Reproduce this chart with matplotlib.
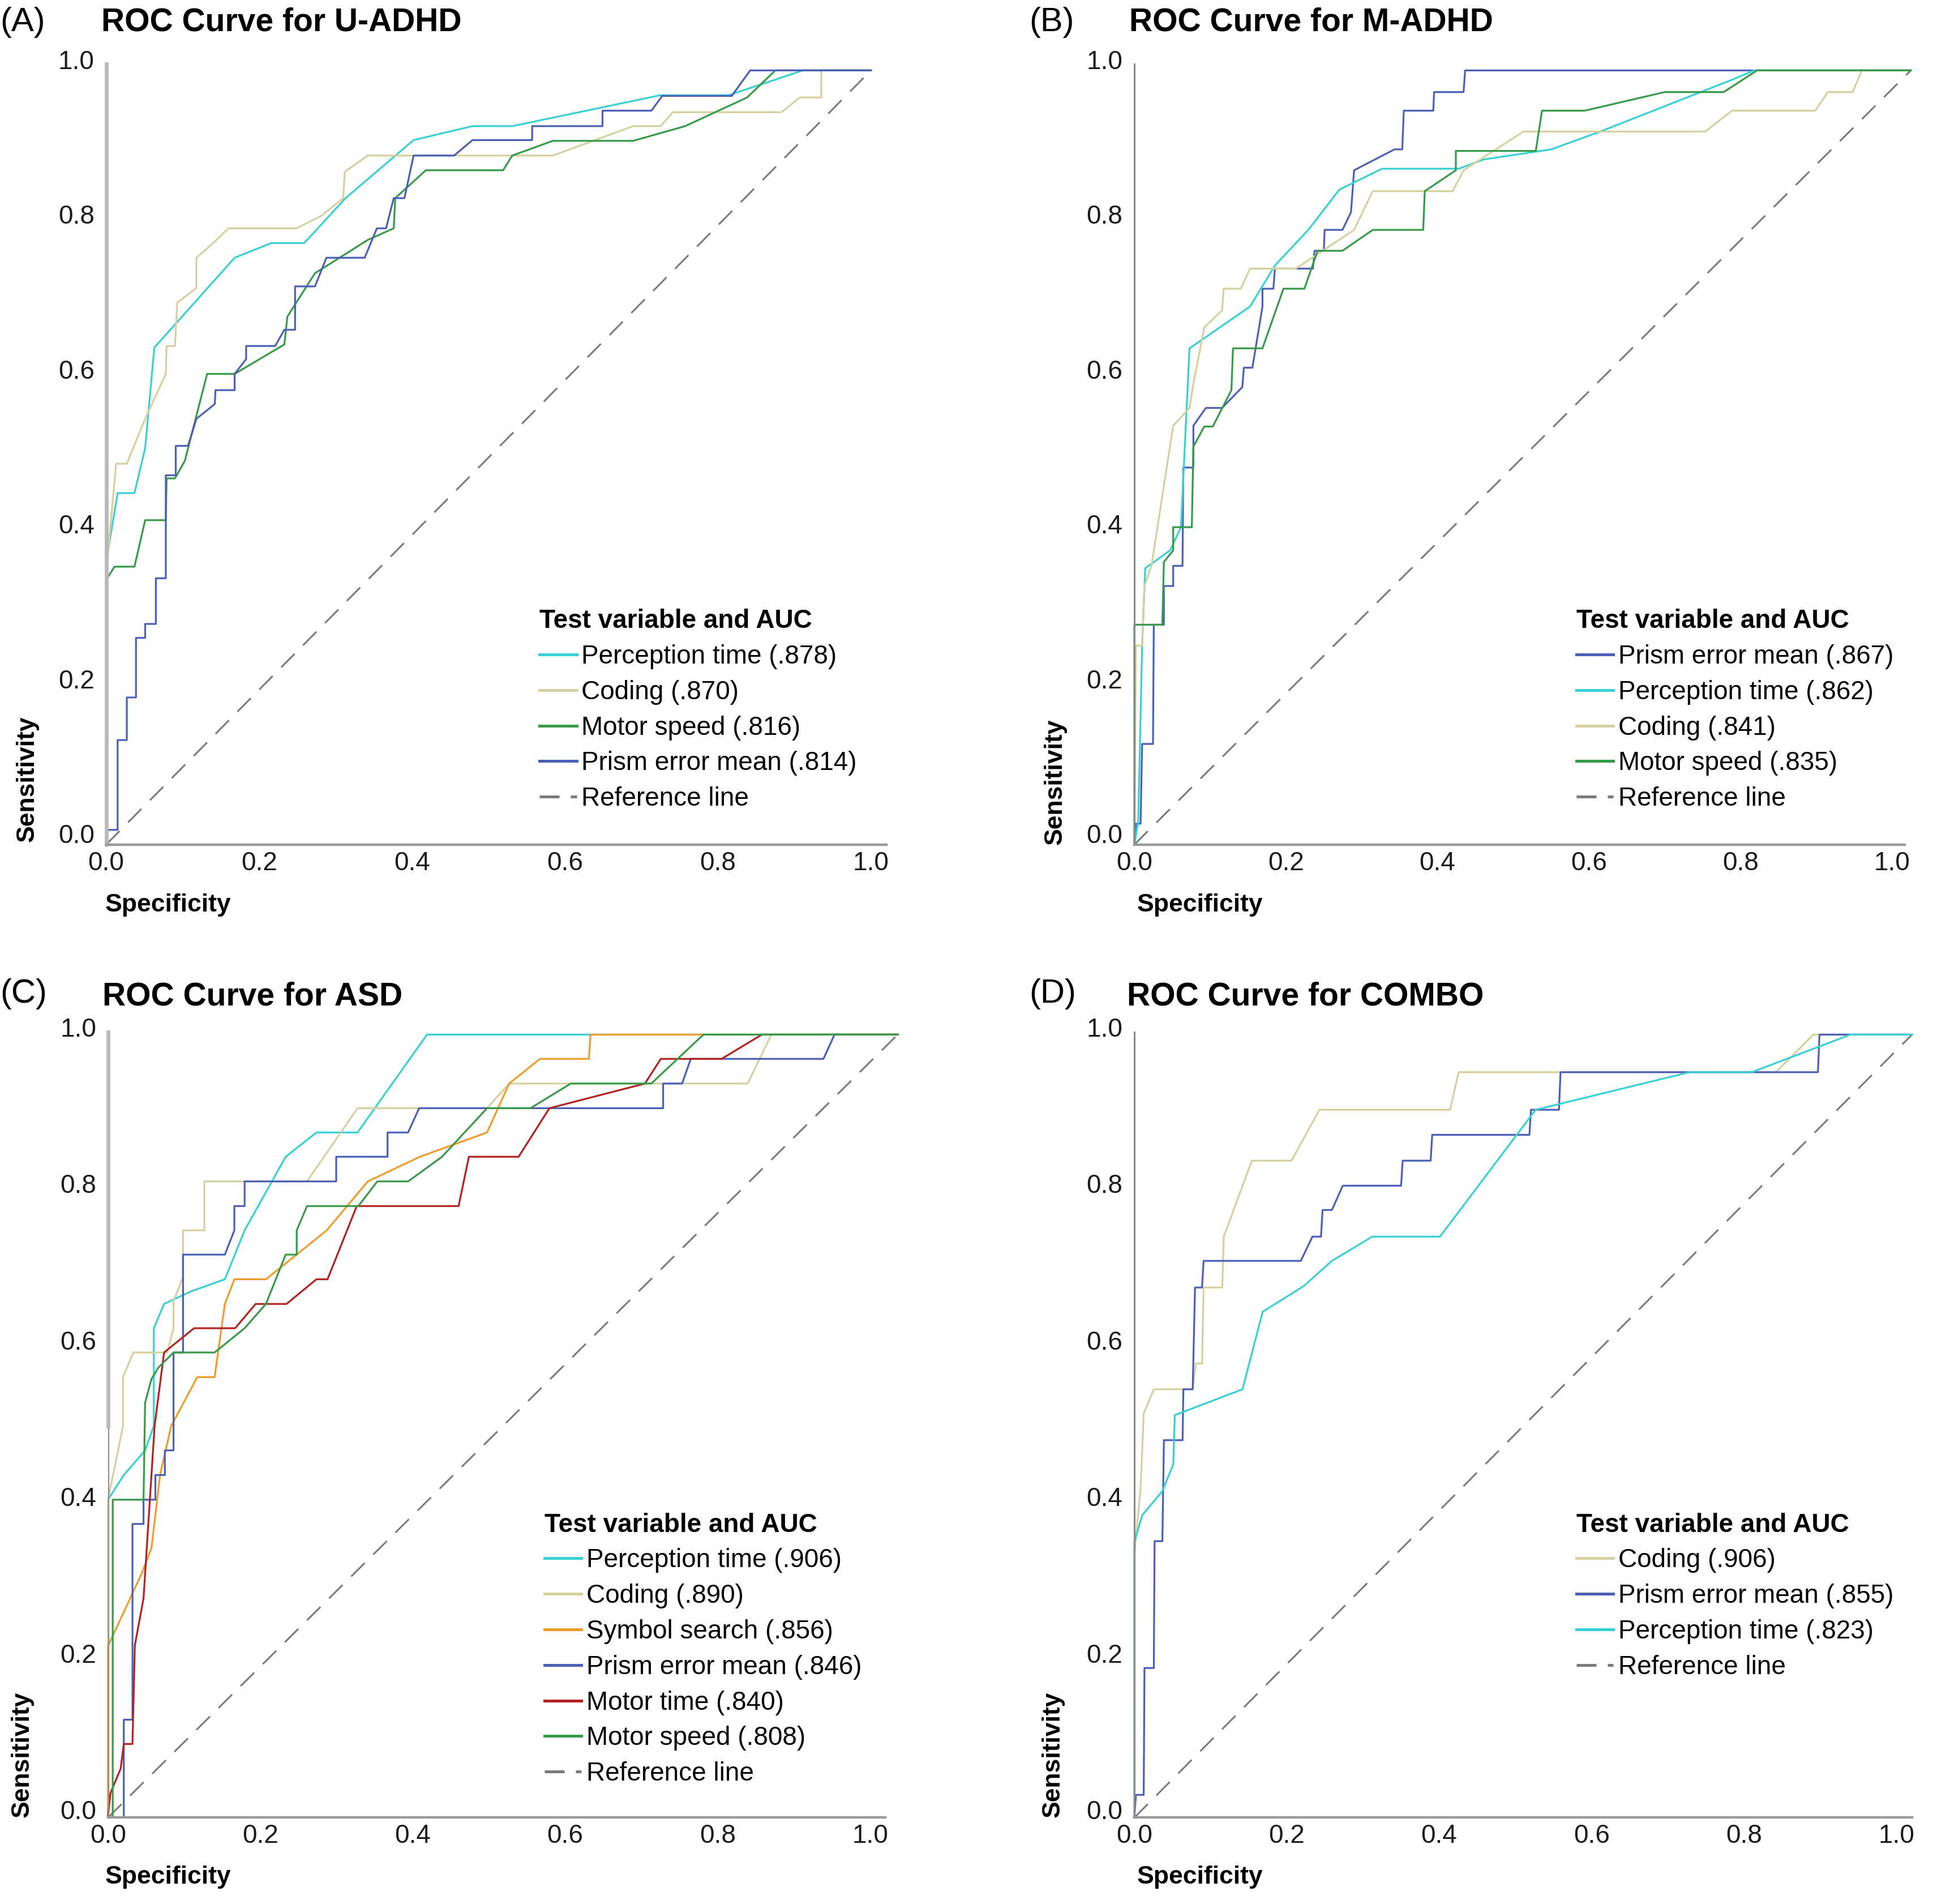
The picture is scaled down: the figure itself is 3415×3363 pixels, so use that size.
import matplotlib
matplotlib.use("Agg")
import matplotlib.pyplot as plt
import matplotlib.transforms as mtransforms
from matplotlib.lines import Line2D
from matplotlib.font_manager import FontProperties

plt.rcParams['font.family'] = ['Liberation Sans', 'DejaVu Sans']

# ---- (A) U-ADHD ----
a_perception_x = [0, 0, 0.015, 0.037, 0.051, 0.063, 0.168, 0.216, 0.259, 0.313, 0.402, 0.479, 0.531, 0.725, 0.814, 0.911, 1.0]
a_perception_y = [0, 0.365, 0.454, 0.454, 0.512, 0.642, 0.758, 0.777, 0.777, 0.835, 0.91, 0.928, 0.928, 0.968, 0.968, 1.0, 1.0]
a_coding_x = [0, 0, 0.013, 0.027, 0.051, 0.078, 0.079, 0.09, 0.093, 0.118, 0.118, 0.14, 0.16, 0.249, 0.281, 0.31, 0.312,
              0.342, 0.584, 0.689, 0.725, 0.741, 0.883, 0.907, 0.935, 0.935, 1.0]
a_coding_y = [0, 0.35, 0.492, 0.492, 0.55, 0.608, 0.644, 0.644, 0.70, 0.719, 0.758, 0.777, 0.796, 0.796, 0.812, 0.835, 0.869,
              0.89, 0.89, 0.928, 0.928, 0.946, 0.946, 0.965, 0.965, 1.0, 1.0]
a_motor_x = [0, 0, 0.011, 0.037, 0.051, 0.078, 0.079, 0.09, 0.103, 0.132, 0.168, 0.233, 0.237, 0.273, 0.342, 0.376, 0.378,
             0.418, 0.519, 0.531, 0.584, 0.689, 0.757, 0.838, 0.875, 1.0]
a_motor_y = [0, 0.342, 0.359, 0.359, 0.419, 0.419, 0.473, 0.473, 0.496, 0.608, 0.608, 0.646, 0.682, 0.738, 0.781, 0.796, 0.835,
             0.871, 0.871, 0.89, 0.909, 0.909, 0.928, 0.965, 1.0, 1.0]
a_prism_x = [0, 0.002, 0.015, 0.015, 0.027, 0.027, 0.039, 0.039, 0.051, 0.051, 0.065, 0.065, 0.078, 0.078, 0.091, 0.091,
             0.107, 0.118, 0.142, 0.143, 0.168, 0.168, 0.183, 0.183, 0.221, 0.233, 0.247, 0.247, 0.273, 0.288, 0.338,
             0.354, 0.366, 0.376, 0.39, 0.402, 0.455, 0.479, 0.557, 0.557, 0.649, 0.649, 0.713, 0.727, 0.818, 0.842, 1.0]
a_prism_y = [0, 0.019, 0.019, 0.135, 0.135, 0.19, 0.19, 0.267, 0.267, 0.285, 0.285, 0.344, 0.344, 0.477, 0.477, 0.515,
             0.515, 0.55, 0.569, 0.587, 0.587, 0.608, 0.627, 0.644, 0.644, 0.665, 0.665, 0.721, 0.721, 0.758, 0.758,
             0.796, 0.796, 0.835, 0.835, 0.89, 0.89, 0.91, 0.91, 0.928, 0.928, 0.948, 0.948, 0.967, 0.967, 1.0, 1.0]

# ---- (B) M-ADHD ----
b_prism_x = [0, 0.002, 0.008, 0.01, 0.024, 0.025, 0.038, 0.038, 0.05, 0.05, 0.062, 0.063, 0.076, 0.076, 0.092, 0.113,
             0.139, 0.141, 0.152, 0.165, 0.165, 0.179, 0.181, 0.23, 0.232, 0.244, 0.245, 0.268, 0.279, 0.283, 0.335,
             0.345, 0.347, 0.385, 0.386, 0.424, 0.426, 1.0]
b_prism_y = [0, 0.027, 0.027, 0.13, 0.13, 0.284, 0.284, 0.334, 0.334, 0.36, 0.36, 0.487, 0.487, 0.541, 0.564, 0.564,
             0.591, 0.616, 0.616, 0.695, 0.718, 0.718, 0.744, 0.744, 0.767, 0.767, 0.794, 0.794, 0.817, 0.871, 0.898,
             0.898, 0.948, 0.948, 0.972, 0.972, 1.0, 1.0]
b_perception_x = [0, 0.005, 0.01, 0.014, 0.046, 0.06, 0.071, 0.149, 0.181, 0.224, 0.264, 0.319, 0.418, 0.45, 0.537,
                  0.6, 0.77, 0.798, 1.0]
b_perception_y = [0, 0.03, 0.257, 0.357, 0.38, 0.41, 0.641, 0.695, 0.748, 0.794, 0.846, 0.873, 0.873, 0.885, 0.898,
                  0.921, 0.988, 1.0, 1.0]
b_coding_x = [0, 0.002, 0.01, 0.013, 0.022, 0.05, 0.071, 0.076, 0.09, 0.113, 0.115, 0.137, 0.149, 0.208, 0.283, 0.307,
              0.41, 0.424, 0.501, 0.735, 0.77, 0.877, 0.893, 0.925, 0.937, 1.0]
b_coding_y = [0, 0.257, 0.257, 0.334, 0.36, 0.541, 0.564, 0.595, 0.668, 0.69, 0.718, 0.718, 0.744, 0.744, 0.794, 0.844,
              0.844, 0.871, 0.921, 0.921, 0.948, 0.948, 0.972, 0.972, 1.0, 1.0]
b_motor_x = [0, 0, 0.036, 0.038, 0.05, 0.05, 0.074, 0.076, 0.09, 0.101, 0.125, 0.127, 0.165, 0.192, 0.219, 0.236, 0.268,
             0.307, 0.372, 0.374, 0.414, 0.414, 0.517, 0.525, 0.58, 0.683, 0.759, 0.802, 1.0]
b_motor_y = [0, 0.284, 0.284, 0.365, 0.38, 0.41, 0.41, 0.514, 0.54, 0.54, 0.587, 0.641, 0.641, 0.718, 0.718, 0.767, 0.767,
             0.794, 0.794, 0.844, 0.871, 0.896, 0.896, 0.948, 0.948, 0.972, 0.972, 1.0, 1.0]

# ---- (C) ASD ----
c_perception_x = [0, 0, 0.02, 0.047, 0.058, 0.058, 0.071, 0.105, 0.148, 0.173, 0.225, 0.264, 0.316, 0.404, 1.0]
c_perception_y = [0, 0.406, 0.4375, 0.469, 0.5, 0.625, 0.656, 0.672, 0.6875, 0.75, 0.844, 0.875, 0.875, 1.0, 1.0]
c_coding_x = [0, 0, 0.019, 0.019, 0.032, 0.075, 0.083, 0.083, 0.095, 0.095, 0.122, 0.122, 0.252, 0.316, 0.48, 0.508,
              0.81, 0.84, 1.0]
c_coding_y = [0, 0.406, 0.5, 0.5625, 0.594, 0.594, 0.625, 0.66, 0.69, 0.75, 0.75, 0.8125, 0.8125, 0.906, 0.906, 0.9375,
              0.9375, 1.0, 1.0]
c_symbol_x = [0, 0, 0.043, 0.055, 0.066, 0.08, 0.113, 0.135, 0.148, 0.16, 0.2, 0.277, 0.329, 0.395, 0.48, 0.508, 0.547,
              0.609, 0.611, 1.0]
c_symbol_y = [0, 0.219, 0.3125, 0.344, 0.438, 0.5, 0.5625, 0.5625, 0.656, 0.6875, 0.6875, 0.75, 0.8125, 0.844, 0.875,
              0.9375, 0.969, 0.969, 1.0, 1.0]
c_prism_x = [0, 0.02, 0.02, 0.031, 0.031, 0.045, 0.045, 0.06, 0.06, 0.072, 0.072, 0.083, 0.083, 0.095, 0.095, 0.148,
             0.16, 0.16, 0.173, 0.173, 0.289, 0.289, 0.354, 0.354, 0.38, 0.394, 0.703, 0.703, 0.727, 0.738, 0.906, 0.92, 1.0]
c_prism_y = [0, 0, 0.125, 0.125, 0.375, 0.375, 0.406, 0.406, 0.4375, 0.4375, 0.469, 0.469, 0.594, 0.594, 0.719, 0.719,
             0.75, 0.781, 0.781, 0.8125, 0.8125, 0.844, 0.844, 0.875, 0.875, 0.906, 0.906, 0.9375, 0.9375, 0.969, 0.969,
             1.0, 1.0]
c_motortime_x = [0, 0.003, 0.016, 0.02, 0.031, 0.034, 0.045, 0.059, 0.071, 0.109, 0.161, 0.187, 0.226, 0.264, 0.278,
                 0.315, 0.444, 0.457, 0.52, 0.559, 0.68, 0.7, 0.777, 0.828, 1.0]
c_motortime_y = [0, 0.031, 0.0625, 0.094, 0.094, 0.22, 0.28, 0.5, 0.594, 0.625, 0.625, 0.656, 0.656, 0.6875, 0.6875,
                 0.781, 0.781, 0.844, 0.844, 0.906, 0.9375, 0.969, 0.969, 1.0, 1.0]
c_motor_x = [0, 0.006, 0.006, 0.045, 0.047, 0.055, 0.064, 0.083, 0.135, 0.173, 0.2, 0.225, 0.239, 0.239, 0.252, 0.317,
             0.341, 0.38, 0.423, 0.48, 0.535, 0.586, 0.688, 0.754, 1.0]
c_motor_y = [0, 0, 0.406, 0.406, 0.53, 0.56, 0.575, 0.594, 0.594, 0.625, 0.656, 0.719, 0.719, 0.75, 0.781, 0.781,
             0.8125, 0.8125, 0.844, 0.906, 0.906, 0.9375, 0.9375, 1.0, 1.0]

# ---- (D) COMBO ----
d_coding_x = [0, 0, 0.008, 0.012, 0.025, 0.075, 0.079, 0.087, 0.089, 0.113, 0.115, 0.151, 0.202, 0.238, 0.406, 0.417,
              0.825, 0.873, 1.0]
d_coding_y = [0, 0.336, 0.42, 0.516, 0.547, 0.547, 0.58, 0.58, 0.677, 0.677, 0.742, 0.839, 0.839, 0.904, 0.904, 0.952,
              0.952, 1.0, 1.0]
d_prism_x = [0, 0.002, 0.012, 0.013, 0.025, 0.026, 0.036, 0.038, 0.062, 0.063, 0.075, 0.078, 0.087, 0.089, 0.214, 0.229,
             0.24, 0.242, 0.254, 0.268, 0.343, 0.345, 0.381, 0.383, 0.508, 0.51, 0.546, 0.548, 0.879, 0.881, 1.0]
d_prism_y = [0, 0.029, 0.029, 0.191, 0.191, 0.353, 0.353, 0.482, 0.482, 0.547, 0.547, 0.677, 0.677, 0.711, 0.711, 0.742,
             0.742, 0.776, 0.776, 0.807, 0.807, 0.839, 0.839, 0.872, 0.872, 0.904, 0.904, 0.952, 0.952, 1.0, 1.0]
d_perception_x = [0, 0, 0.01, 0.036, 0.05, 0.052, 0.139, 0.165, 0.218, 0.254, 0.306, 0.393, 0.516, 0.714, 0.794, 0.921, 1.0]
d_perception_y = [0, 0.352, 0.386, 0.417, 0.451, 0.514, 0.547, 0.646, 0.679, 0.711, 0.742, 0.742, 0.904, 0.952, 0.952, 1.0, 1.0]

tick_labels = ["0.0", "0.2", "0.4", "0.6", "0.8", "1.0"]

CYAN = '#38d0d4'
KHAKI = '#d5d09e'
GREEN = '#379a48'
BLUE = '#4b5fb8'
ORANGE = '#f09c2c'
RED = '#b3221f'
REF = '#7a7a7a'
LIGHT_AXIS = '#b8b8b8'
DARK_AXIS = '#8a8a8a'

# positions below are pixels of a ~1566 x 1542 view of the figure
W, H = 1566.0, 1542.0
def fx(px):
    return px / W
def fy(py):
    return 1 - py / H

panels = [
    dict(tag="(A)", title="ROC Curve for U-ADHD", box=(86, 718, 52, 684), xmax=1.02, ymax=1.008, span=1.0, dy=7,
         left_axis='thick', tag_xy=(0, 18), title_xy=(82, 18), sens_xy=(22, 682), spec_xy=(85, 733), leg_xy=(437, 493),
         curves=[("Perception time (.878)", a_perception_x, a_perception_y, CYAN),
                 ("Coding (.870)", a_coding_x, a_coding_y, KHAKI),
                 ("Motor speed (.816)", a_motor_x, a_motor_y, GREEN),
                 ("Prism error mean (.814)", a_prism_x, a_prism_y, BLUE)]),
    dict(tag="(B)", title="ROC Curve for M-ADHD", box=(919, 1543, 52, 684), xmax=0.992, ymax=1.008, span=0.976, dy=7,
         left_axis='thin', tag_xy=(834, 18), title_xy=(915, 18), sens_xy=(855, 684), spec_xy=(921, 733), leg_xy=(1277, 493),
         curves=[("Prism error mean (.867)", b_prism_x, b_prism_y, BLUE),
                 ("Perception time (.862)", b_perception_x, b_perception_y, CYAN),
                 ("Coding (.841)", b_coding_x, b_coding_y, KHAKI),
                 ("Motor speed (.835)", b_motor_x, b_motor_y, GREEN)]),
    dict(tag="(C)", title="ROC Curve for ASD", box=(87.5, 717, 836, 1472), xmax=0.984, ymax=1.003, span=0.965, dy=5,
         left_axis='split', tag_xy=(0, 805), title_xy=(83, 807), sens_xy=(18, 1472), spec_xy=(85, 1520), leg_xy=(441, 1225),
         curves=[("Perception time (.906)", c_perception_x, c_perception_y, CYAN),
                 ("Coding (.890)", c_coding_x, c_coding_y, KHAKI),
                 ("Symbol search (.856)", c_symbol_x, c_symbol_y, ORANGE),
                 ("Prism error mean (.846)", c_prism_x, c_prism_y, BLUE),
                 ("Motor time (.840)", c_motortime_x, c_motortime_y, RED),
                 ("Motor speed (.808)", c_motor_x, c_motor_y, GREEN)]),
    dict(tag="(D)", title="ROC Curve for COMBO", box=(919, 1549, 836, 1472), xmax=1.0, ymax=1.003, span=0.98, dy=5,
         left_axis='thin', tag_xy=(834, 805), title_xy=(913, 807), sens_xy=(853, 1472), spec_xy=(921, 1520), leg_xy=(1277, 1225),
         curves=[("Coding (.906)", d_coding_x, d_coding_y, KHAKI),
                 ("Prism error mean (.855)", d_prism_x, d_prism_y, BLUE),
                 ("Perception time (.823)", d_perception_x, d_perception_y, CYAN)]),
]

fig = plt.figure(figsize=(17.075, 16.815), dpi=200)

for p in panels:
    left, right, top, bottom = p['box']
    ax = fig.add_axes([fx(left), fy(bottom), (right - left) / W, (bottom - top) / H])

    ax.plot([0, 1], [0, 1], color=REF, lw=1.1, ls=(0, (11, 7)), clip_on=False)
    for label, xs, ys, col in p['curves']:
        ax.plot(xs, ys, color=col, lw=1.15, clip_on=False)

    ax.set_xlim(0, p['xmax'])
    ax.set_ylim(0, p['ymax'])
    ax.set_xticks([i * p['span'] / 5 for i in range(6)], tick_labels)
    ax.set_yticks([i / 5 for i in range(6)], tick_labels)
    ax.tick_params(length=0, labelsize=16.5, colors='#1a1a1a')
    ax.tick_params(axis='x', pad=4)
    ax.tick_params(axis='y', pad=7.5)
    # SPSS puts the y labels a little above their gridline value
    shift = mtransforms.ScaledTranslation(0, p['dy'] / 72, fig.dpi_scale_trans)
    for lab in ax.get_yticklabels():
        lab.set_transform(lab.get_transform() + shift)

    for s in ['top', 'right']:
        ax.spines[s].set_visible(False)
    ax.spines['bottom'].set_color('#9a9a9a')
    ax.spines['bottom'].set_linewidth(1.6)
    if p['left_axis'] == 'thick':
        ax.spines['left'].set_color(LIGHT_AXIS)
        ax.spines['left'].set_linewidth(2.4)
    elif p['left_axis'] == 'split':
        ax.spines['left'].set_color(LIGHT_AXIS)
        ax.spines['left'].set_linewidth(2.4)
        ax.spines['left'].set_bounds(0.5, p['ymax'])
        ax.axvline(0, 0, 0.5 / p['ymax'], color=DARK_AXIS, lw=1.1)
    else:
        ax.spines['left'].set_color(DARK_AXIS)
        ax.spines['left'].set_linewidth(1.1)

    handles = [Line2D([], [], color=c, lw=1.8) for _, _, _, c in p['curves']]
    handles.append(Line2D([], [], color=REF, lw=1.8, ls=(0, (7, 4))))
    labels = [c[0] for c in p['curves']] + ["Reference line"]
    ax.legend(handles, labels, loc='upper left', bbox_to_anchor=(fx(p['leg_xy'][0]), fy(p['leg_xy'][1])),
              bbox_transform=fig.transFigure, frameon=False, borderpad=0, borderaxespad=0,
              handlelength=1.43, handletextpad=0.19, labelspacing=0.41, alignment='left',
              title="Test variable and AUC",
              title_fontproperties=FontProperties(weight='bold', size=16.5),
              prop=FontProperties(size=16.5))

    fig.text(fx(p['tag_xy'][0]), fy(p['tag_xy'][1]), p['tag'], fontsize=21.5, ha='left', va='center')
    fig.text(fx(p['title_xy'][0]), fy(p['title_xy'][1]), p['title'], fontsize=20.5, fontweight='bold',
             ha='left', va='center')
    fig.text(fx(p['sens_xy'][0]), fy(p['sens_xy'][1]), "Sensitivity", rotation=90,
             fontsize=16, fontweight='bold', ha='center', va='bottom')
    fig.text(fx(p['spec_xy'][0]), fy(p['spec_xy'][1]), "Specificity",
             fontsize=16, fontweight='bold', ha='left', va='center')

fig.savefig("out.png", dpi=200, facecolor='white')
